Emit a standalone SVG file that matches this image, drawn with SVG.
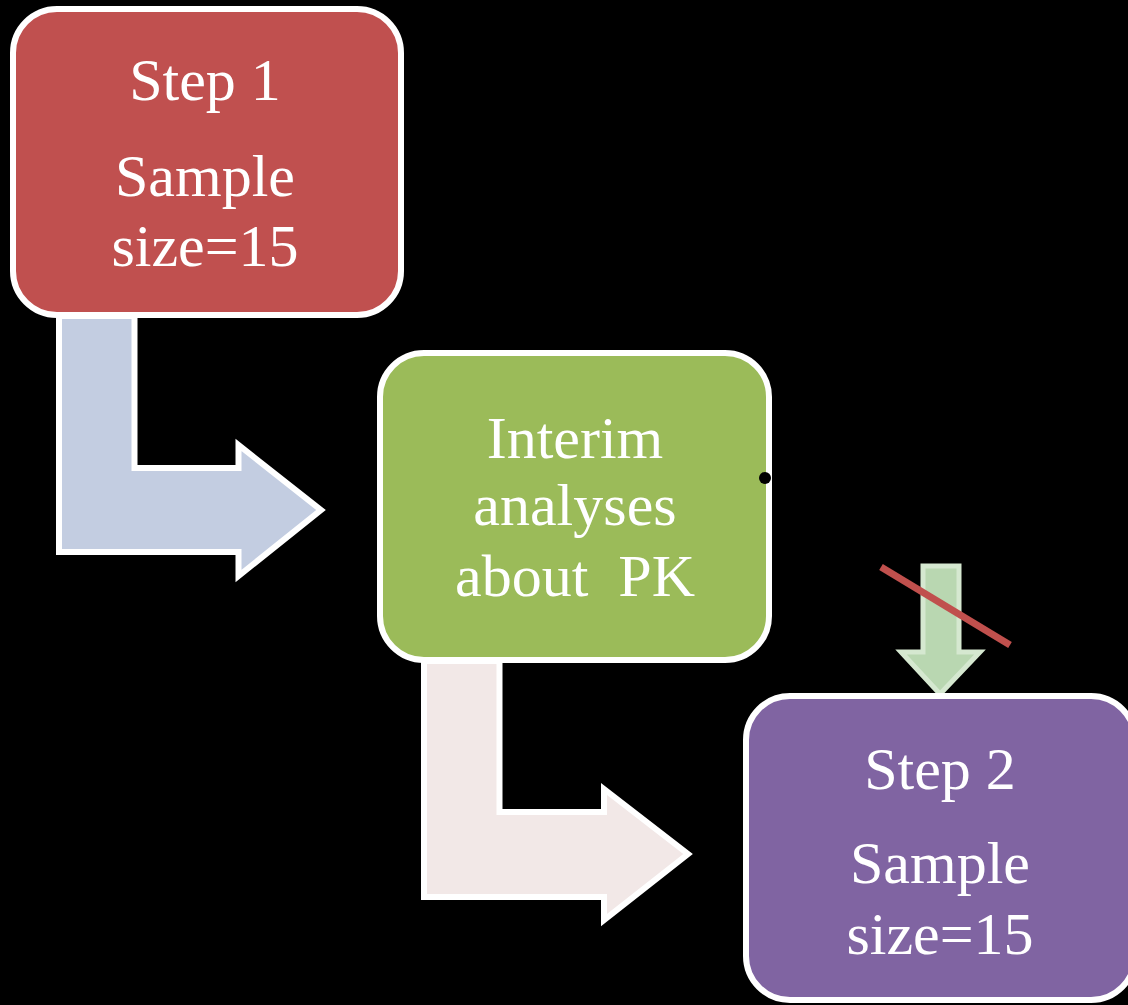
<svg xmlns="http://www.w3.org/2000/svg" width="1128" height="1005" viewBox="0 0 1128 1005">
<style>
.box{stroke:#FFFFFF;stroke-width:6}
.bent{stroke:#FFFFFF;stroke-width:6;stroke-linejoin:miter}
</style>
<rect width="1128" height="1005" fill="#000000"/>
<g id="connectors">
<polygon id="bent1" class="bent" fill="#C3CDE1" points="59,316 134.5,316 134.5,468 238.5,468 238.5,445 321,510 238.5,576 238.5,552 59,552"/>
<polygon id="bent2" class="bent" fill="#F2E8E7" points="424,661 499.5,661 499.5,812 604,812 604,789 688,854 604,920 604,897 424,897"/>
<polygon id="down" fill="#B9D7B1" stroke="#D5E8D0" stroke-width="5" points="923,566 959,566 959,652 980,652 940,694 901,652 923,652"/>
<line id="cross" x1="881" y1="567" x2="1010" y2="645" stroke="#C0504D" stroke-width="7"/>
</g>
<g id="step1" font-family="Liberation Serif" font-size="60" fill="#FFFFFF" text-anchor="middle">
<rect class="box" x="13" y="9" width="388" height="306" rx="44" fill="#C0504F"/>
<text x="205" y="100">Step 1</text>
<text x="205" y="196">Sample</text>
<text x="205" y="266">size=15</text>
</g>
<g id="interim" font-family="Liberation Serif" font-size="60" fill="#FFFFFF" text-anchor="middle">
<rect class="box" x="380" y="353" width="389" height="307" rx="44" fill="#9BBB59"/>
<text x="575" y="458">Interim</text>
<text x="575" y="525">analyses</text>
<text x="575" y="596" xml:space="preserve">about  PK</text>
<circle cx="765" cy="478" r="6" fill="#000000"/>
</g>
<g id="step2" font-family="Liberation Serif" font-size="60" fill="#FFFFFF" text-anchor="middle">
<rect class="box" x="746" y="696" width="389" height="304" rx="44" fill="#8064A2"/>
<text x="940" y="789">Step 2</text>
<text x="940" y="883">Sample</text>
<text x="940" y="954">size=15</text>
</g>
</svg>
